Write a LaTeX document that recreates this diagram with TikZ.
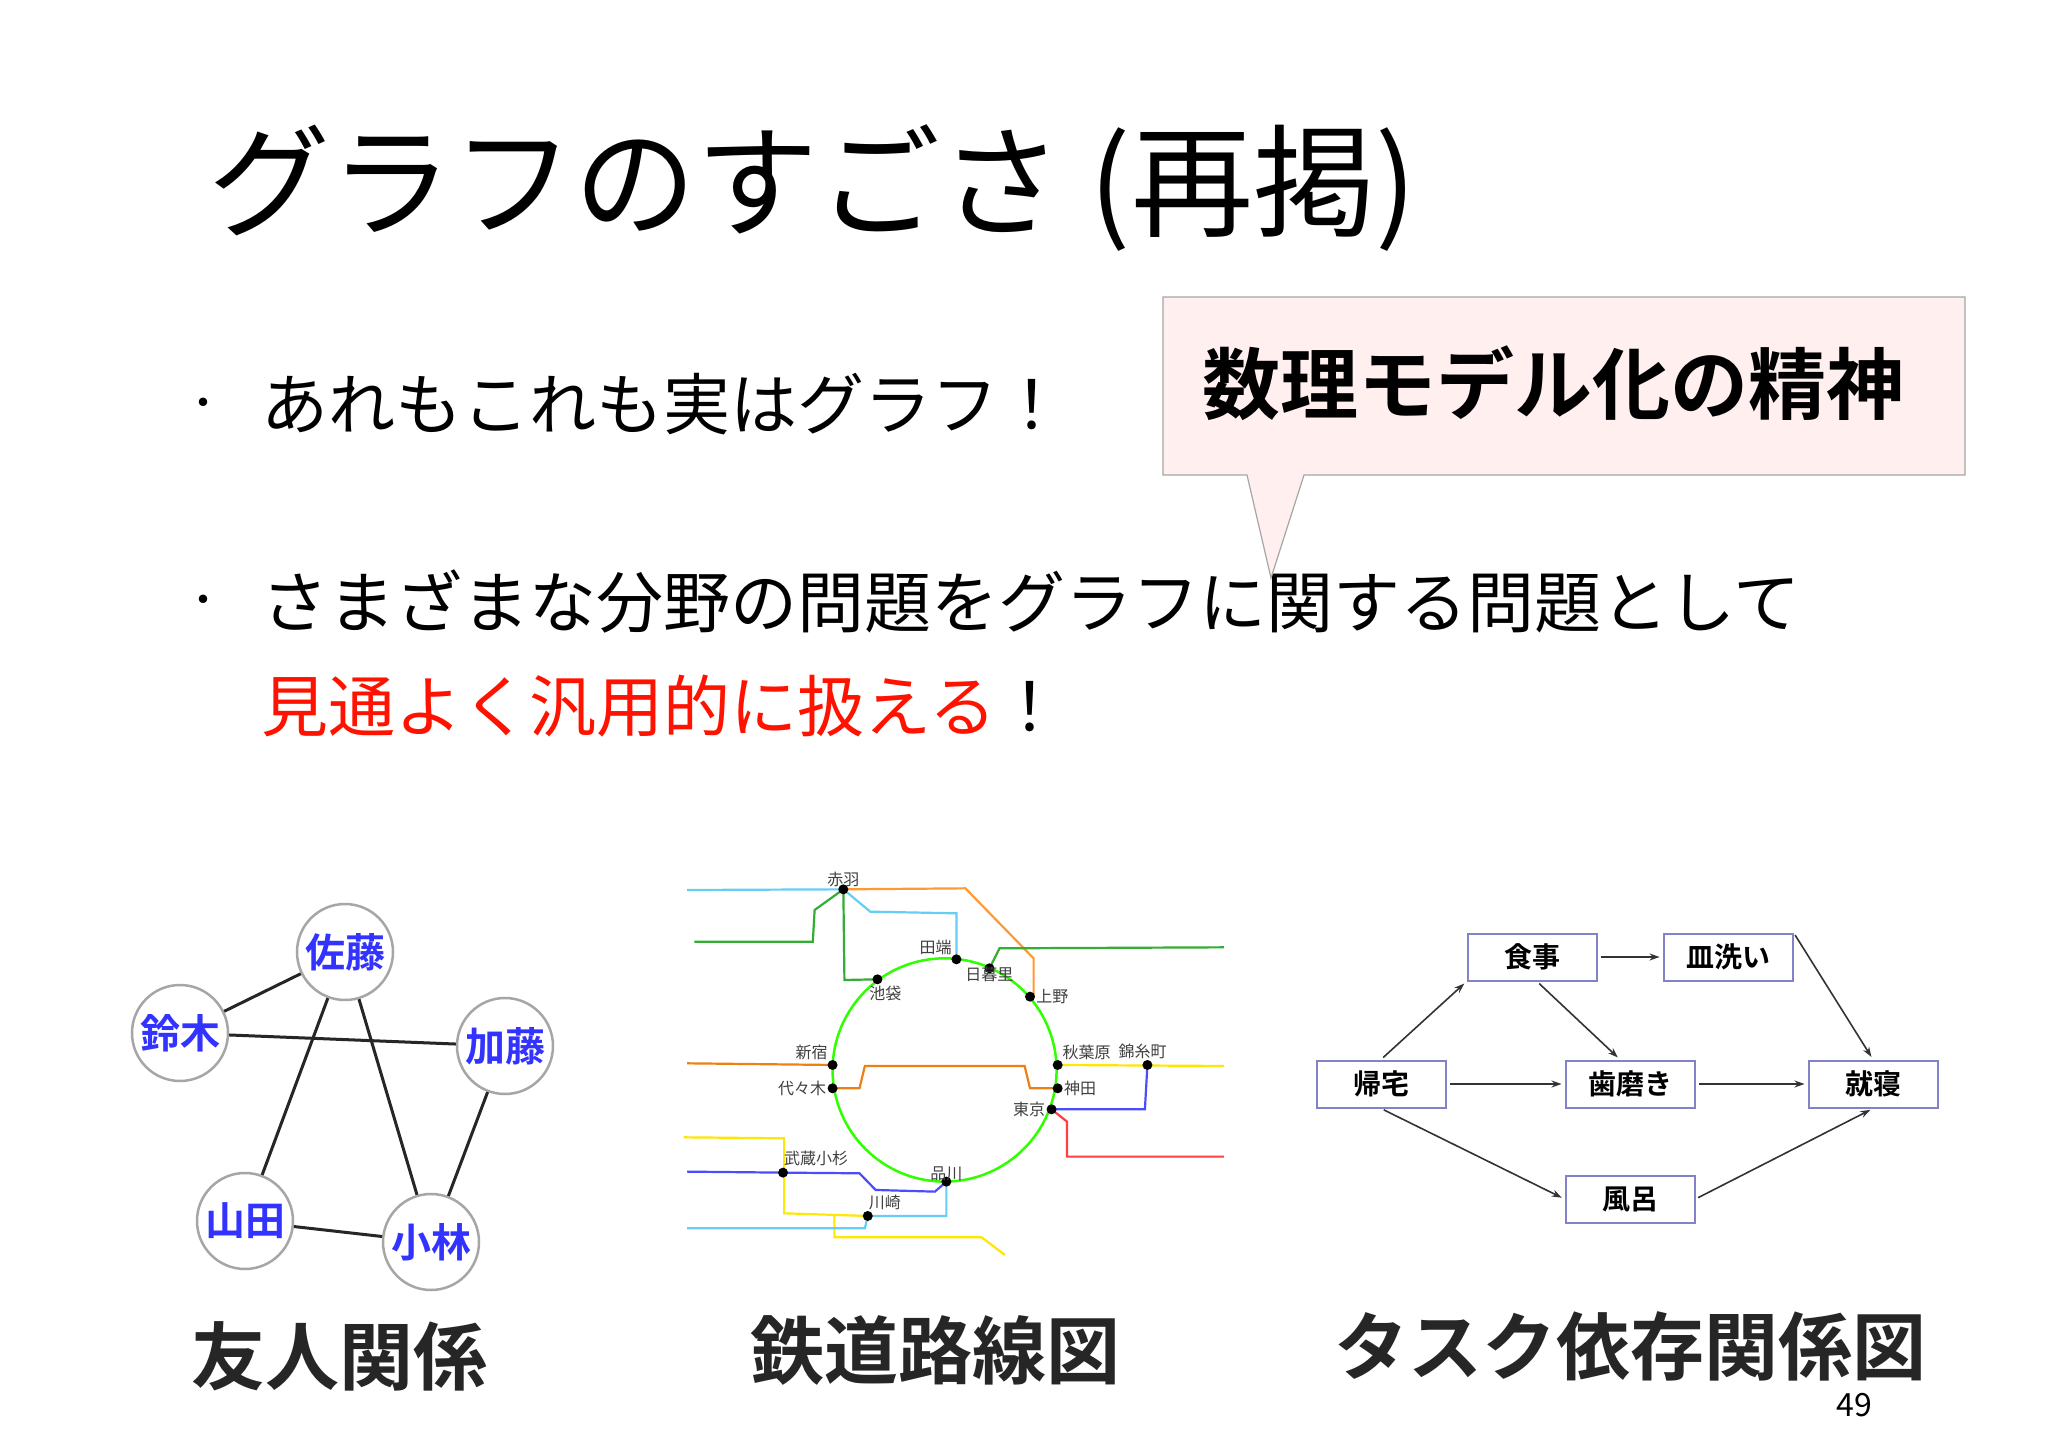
\documentclass[tikz,border=0pt]{standalone}
\usepackage{fontspec}
\setmainfont{Noto Sans CJK JP}[BoldFont={* Bold}]
\usetikzlibrary{arrows.meta}
\begin{document}
\begin{tikzpicture}[x=1pt,y=-1pt,
  fr/.style={circle,draw=gray!70,line width=2.5pt,fill=white,minimum size=96pt,inner sep=0pt,font=\fontsize{40}{40}\selectfont\bfseries,text=blue!80!white},
  fe/.style={line width=3pt,black!85},
  tb/.style={draw=blue!40!gray!70,line width=2pt,fill=white,minimum width=129pt,minimum height=47pt,font=\fontsize{28}{28}\selectfont\bfseries},
  ta/.style={-{Stealth[length=10pt,width=7pt]},line width=1.6pt,black!80,shorten >=3pt,shorten <=3pt},
  st/.style={circle,fill=black,inner sep=0pt,minimum size=10pt},
  sl/.style={font=\fontsize{16}{16}\selectfont,text=black!75,inner sep=1pt},
  rl/.style={line width=2.2pt},
  big/.style={font=\fontsize{74}{74}\selectfont\bfseries,text=black!85}]
\useasboundingbox (0,0) rectangle (2048,1447);
\fill[white] (0,0) rectangle (2048,1447);
% title
\node[anchor=west,font=\fontsize{122}{122}\selectfont] (title) at (205,188) {グラフのすごさ (再掲)};
% bullets
\node[font=\fontsize{40}{40}\selectfont] (b1) at (203,408) {・};
\node[anchor=west,font=\fontsize{67}{67}\selectfont,inner sep=0pt] (t1) at (261,404) {あれもこれも実はグラフ！};
\node[font=\fontsize{40}{40}\selectfont] (b2) at (203,605) {・};
\node[anchor=west,font=\fontsize{67}{67}\selectfont,inner sep=0pt] (t2) at (261,601) {さまざまな分野の問題をグラフに関する問題として};
\node[anchor=west,font=\fontsize{67}{67}\selectfont,inner sep=0pt] (t3) at (261,706) {\textcolor{red!85!orange}{見通よく汎用的に扱える}！};
% callout
\draw[fill=pink!25,draw=gray!70,line width=1.2pt] (1163,297) -- (1965,297) -- (1965,475) -- (1304,475) -- (1271,578) -- (1247,475) -- (1163,475) -- cycle;
\node[font=\fontsize{78}{78}\selectfont\bfseries] (call) at (1553,383) {数理モデル化の精神};
% friend graph
\node[fr] (sato) at (345,952) {佐藤};
\node[fr] (suzuki) at (180,1033) {鈴木};
\node[fr] (kato) at (505,1046) {加藤};
\node[fr] (yamada) at (245,1221) {山田};
\node[fr] (koba) at (431,1242) {小林};
\draw[fe] (suzuki) -- (sato);
\draw[fe] (suzuki) -- (kato);
\draw[fe] (sato) -- (yamada);
\draw[fe] (sato) -- (koba);
\draw[fe] (kato) -- (koba);
\draw[fe] (yamada) -- (koba);
\node[big] (l1) at (339,1356) {友人関係};
% railway
\begin{scope}[shift={(680,850)},x=0.359pt,y=-0.3333pt]
\draw[rl,cyan!60] (20,120) -- (455,118) -- (530,185) -- (770,190) -- (770,328);
\draw[rl,orange!80] (455,118) -- (795,115) -- (985,325) -- (985,440);
\draw[rl,green!60!black!80] (40,275) -- (370,275) -- (375,180) -- (455,118) -- (458,390) -- (550,388);
\draw[rl,green!60!black!80] (862,355) -- (890,295) -- (1515,292);
\draw[rl,orange!70!brown] (20,640) -- (425,645);
\draw[rl,orange!70!brown] (425,715) -- (500,715) -- (515,648) -- (960,648) -- (975,715) -- (1052,715);
\draw[rl,yellow!90!orange] (1052,645) -- (1515,648);
\draw[rl,blue!70] (1035,778) -- (1295,778) -- (1302,645);
\draw[rl,red!75] (1035,778) -- (1078,815) -- (1078,920) -- (1515,920);
\draw[rl,yellow!90!orange] (10,862) -- (290,865) -- (290,1090) -- (523,1098);
\draw[rl,yellow!90!orange] (430,1098) -- (430,1162) -- (840,1162) -- (905,1215);
\draw[rl,blue!70] (20,965) -- (287,968) -- (500,970) -- (545,1020) -- (710,1025) -- (742,995);
\draw[rl,cyan!60] (20,1135) -- (515,1135) -- (523,1098) -- (742,1098) -- (742,995);
\draw[line width=2.5pt,green!75!lime] (737,660) ellipse [x radius=312, y radius=335];
\node[st] (akabane) at (455,118) {};
\node[st] (tabata) at (770,328) {};
\node[st] (nippori) at (862,355) {};
\node[st] (ueno) at (975,440) {};
\node[st] (ikebukuro) at (550,388) {};
\node[st] (shinjuku) at (425,645) {};
\node[st] (yoyogi) at (425,715) {};
\node[st] (akiba) at (1052,645) {};
\node[st] (kanda) at (1052,715) {};
\node[st] (tokyo) at (1035,778) {};
\node[st] (kinshi) at (1302,645) {};
\node[st] (shinagawa) at (742,995) {};
\node[st] (musashi) at (287,968) {};
\node[st] (kawasaki) at (523,1098) {};
\node[sl,anchor=south] at ([yshift=-4pt]akabane.north) {赤羽};
\node[sl,anchor=south east] at (tabata.north west) {田端};
\node[sl,anchor=north] at ([yshift=8pt]nippori.south) {日暮里};
\node[sl,anchor=west] at (ueno.east) {上野};
\node[sl,anchor=north] at ([xshift=8pt]ikebukuro.south) {池袋};
\node[sl,anchor=south east] at (shinjuku.north west) {新宿};
\node[sl,anchor=east] at (yoyogi.west) {代々木};
\node[sl,anchor=south west] at (akiba.north east) {秋葉原};
\node[sl,anchor=west] at (kanda.east) {神田};
\node[sl,anchor=east] at (tokyo.west) {東京};
\node[sl,anchor=south west] at ([xshift=-30pt]kinshi.north) {錦糸町};
\node[sl,anchor=south] at ([yshift=-6pt]shinagawa.north) {品川};
\node[sl,anchor=south west] at (musashi.north) {武蔵小杉};
\node[sl,anchor=south west] at (kawasaki.north) {川崎};
\end{scope}
\node[big] (l2) at (935,1350) {鉄道路線図};
% task graph
\node[tb] (shoku) at (1532,957) {食事};
\node[tb] (sara) at (1728,957) {皿洗い};
\node[tb] (kitaku) at (1381,1084) {帰宅};
\node[tb] (ha) at (1630,1084) {歯磨き};
\node[tb] (shu) at (1873,1084) {就寝};
\node[tb] (furo) at (1630,1199) {風呂};
\draw[ta] (kitaku.north) -- (shoku.south west);
\draw[ta] (shoku) -- (sara);
\draw[ta] (kitaku) -- (ha);
\draw[ta] (ha) -- (shu);
\draw[ta] ([xshift=5pt]shoku.south) -- ([xshift=-10pt]ha.north);
\draw[ta] (sara.north east) -- (shu.north);
\draw[ta] (kitaku.south) -- (furo.west);
\draw[ta] (furo.east) -- (shu.south);
\node[big] (l3) at (1630,1346) {タスク依存関係図};
\node[font=\fontsize{32}{32}\selectfont] (pg) at (1854,1405) {49};
\end{tikzpicture}
\end{document}
